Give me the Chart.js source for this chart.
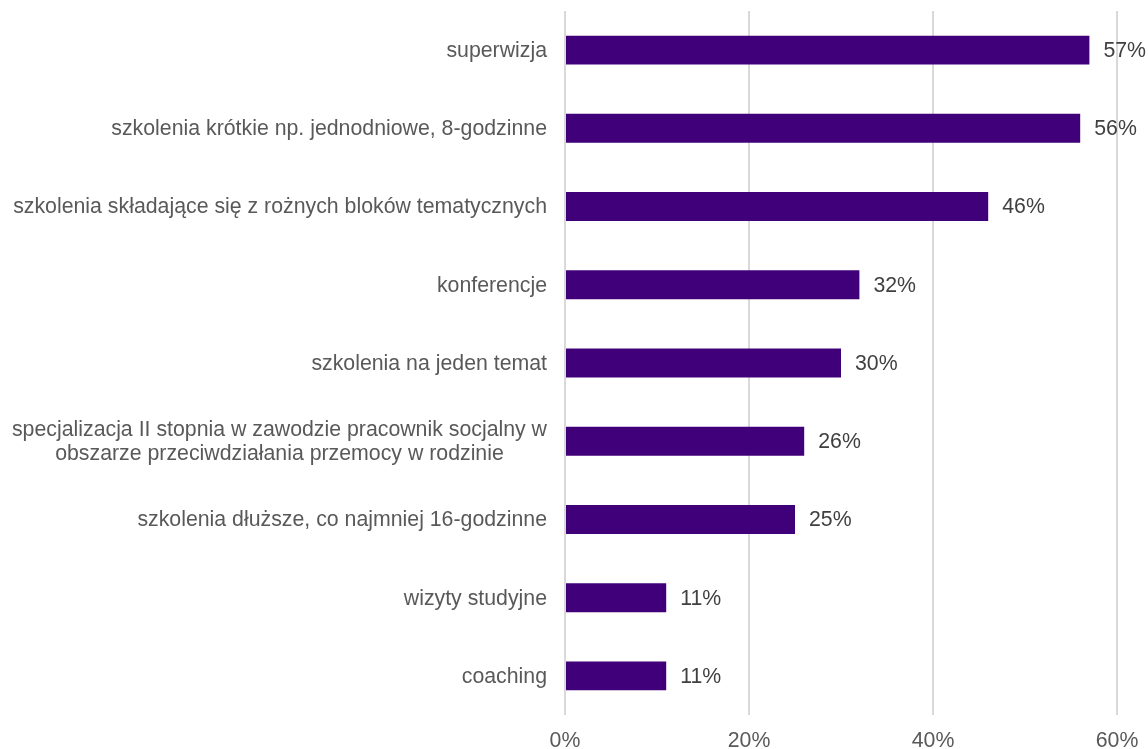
<!DOCTYPE html>
<html>
<head>
<meta charset="utf-8">
<script src="https://cdn.jsdelivr.net/npm/chart.js"></script>
<style>
    body { margin: 0; background: #fff; }
    .chart-box { width: 1148px; height: 749px; }
</style>
</head>
<body>
<div class="chart-box">
    <canvas id="formsChart" width="1148" height="749"></canvas>
</div>

<script>
    const categories = [
        'superwizja',
        'szkolenia krótkie np. jednodniowe, 8-godzinne',
        'szkolenia składające się z rożnych bloków tematycznych',
        'konferencje',
        'szkolenia na jeden temat',
        ['specjalizacja II stopnia w zawodzie pracownik socjalny w', 'obszarze przeciwdziałania przemocy w rodzinie'],
        'szkolenia dłuższe, co najmniej 16-godzinne',
        'wizyty studyjne',
        'coaching'
    ];
    const percentValues = [57, 56, 46, 32, 30, 26, 25, 11, 11];
    const tickValues = [0, 20, 40, 60];

    const textColor = '#595959';
    const font = { family: '"Liberation Sans", Arial, sans-serif', size: 21.3 };
    const fontCss = `${font.size}px ${font.family}`;

    // category names: block right-aligned next to the axis, wrapped lines centred inside the block
    const categoryLabels = {
        id: 'categoryLabels',
        afterDraw(chart) {
            const ctx = chart.ctx;
            const yScale = chart.scales.y;
            const right = yScale.right - 18;
            const lineGap = 24;
            ctx.save();
            ctx.font = fontCss;
            ctx.fillStyle = textColor;
            ctx.textBaseline = 'middle';
            ctx.textAlign = 'center';
            categories.forEach((label, i) => {
                const lines = Array.isArray(label) ? label : [label];
                const y = yScale.getPixelForValue(i) + 1;
                const widest = Math.max(...lines.map(l => ctx.measureText(l).width));
                const cx = right - widest / 2;
                lines.forEach((line, k) => {
                    const ly = y + (k - (lines.length - 1) / 2) * lineGap;
                    ctx.fillText(line, cx, ly);
                });
            });
            ctx.restore();
        }
    };

    // writes "NN%" just past the end of every bar
    const valueLabels = {
        id: 'valueLabels',
        afterDatasetsDraw(chart) {
            const ctx = chart.ctx;
            const meta = chart.getDatasetMeta(0);
            ctx.save();
            ctx.font = fontCss;
            ctx.fillStyle = '#404040';
            ctx.textAlign = 'left';
            ctx.textBaseline = 'middle';
            meta.data.forEach((bar, i) => {
                ctx.fillText(percentValues[i] + '%', bar.x + 14, bar.y + 1);
            });
            ctx.restore();
        }
    };

    new Chart(document.getElementById('formsChart'), {
        type: 'bar',
        data: {
            labels: categories,
            datasets: [{
                data: percentValues,
                backgroundColor: '#40007a',
                borderWidth: 0,
                barPercentage: 0.37,
                categoryPercentage: 1
            }]
        },
        options: {
            indexAxis: 'y',
            responsive: false,
            animation: false,
            layout: { padding: { top: 11, right: 31, bottom: 0, left: 0 } },
            plugins: {
                legend: { display: false },
                tooltip: { enabled: false }
            },
            scales: {
                x: {
                    min: 0,
                    max: 60,
                    afterBuildTicks: (scale) => {
                        scale.ticks = tickValues.map(v => ({ value: v }));
                    },
                    afterFit: (scale) => {
                        scale.height = 34;
                        scale.paddingLeft = 0;
                        scale.paddingRight = 0;
                    },
                    ticks: {
                        color: textColor,
                        font: font,
                        padding: 13,
                        callback: (v) => v + '%'
                    },
                    grid: { color: '#d9d9d9', lineWidth: 2, drawTicks: false },
                    border: { display: false }
                },
                y: {
                    afterFit: (scale) => {
                        scale.width = 565;
                        scale.paddingTop = 0;
                        scale.paddingBottom = 0;
                    },
                    ticks: { display: false },
                    grid: { display: false, drawTicks: false },
                    border: { display: false }
                }
            }
        },
        plugins: [valueLabels, categoryLabels]
    });
</script>
</body>
</html>
